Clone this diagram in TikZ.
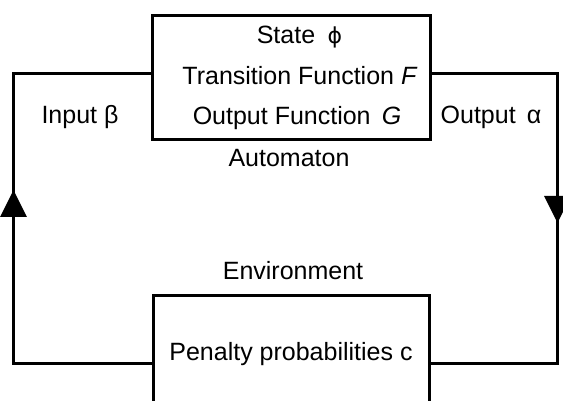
\documentclass[tikz,border=0pt]{standalone}
\usepackage{fontspec}
\setmainfont{Liberation Sans}
\newfontfamily\symfont{DejaVu Sans}
\usetikzlibrary{arrows.meta}
\begin{document}
\begin{tikzpicture}[x=1pt,y=-1pt,
  every node/.style={font=\fontsize{25}{40.5}\selectfont, inner sep=0pt},
  wire/.style={line width=3pt, line join=miter},
  boxed/.style={draw, line width=3pt, rectangle},
  tip/.style={line width=3pt, -{Triangle[length=27pt,width=26pt]}}]
\useasboundingbox (0,0) rectangle (563,401);
\clip (0,0) rectangle (563,401);
% automaton box
\node[boxed, minimum width=278pt, minimum height=124pt, align=center] (auto) at (291,78)
  {\hspace*{17pt}State\,\,\,{\symfont\fontsize{22}{40.5}\selectfont ϕ}\\ \hspace*{18pt}Transition Function \textit{F}\\ \hspace*{12pt}Output Function\, \textit{G}};
\node (autolab) at (289,158) {Automaton};
\node (envlab) at (293,271) {Environment};
% environment box (extends past the lower edge)
\node[boxed, minimum width=276pt, minimum height=136pt] (env) at (291,363) {};
\node (pen) at (291,354) {Penalty probabilities c};
\node (in) at (80,117) {Input β};
\node (out) at (491,117) {Output\, α};
% corners
\coordinate (LT) at (13.5,74);
\coordinate (LB) at (13.5,363);
\coordinate (LA) at (13.5,190);
\coordinate (RT) at (557.5,74);
\coordinate (RB) at (557.5,363);
\coordinate (RA) at (557.5,223);
\draw[wire] ([yshift=4pt]auto.west) -- (LT) -- (LB) -- (env.west);
\draw[wire] ([yshift=4pt]auto.east) -- (RT) -- (RB) -- (env.east);
\draw[tip] (LB) -- (LA);
\draw[tip] (RT) -- (RA);
\end{tikzpicture}
\end{document}
